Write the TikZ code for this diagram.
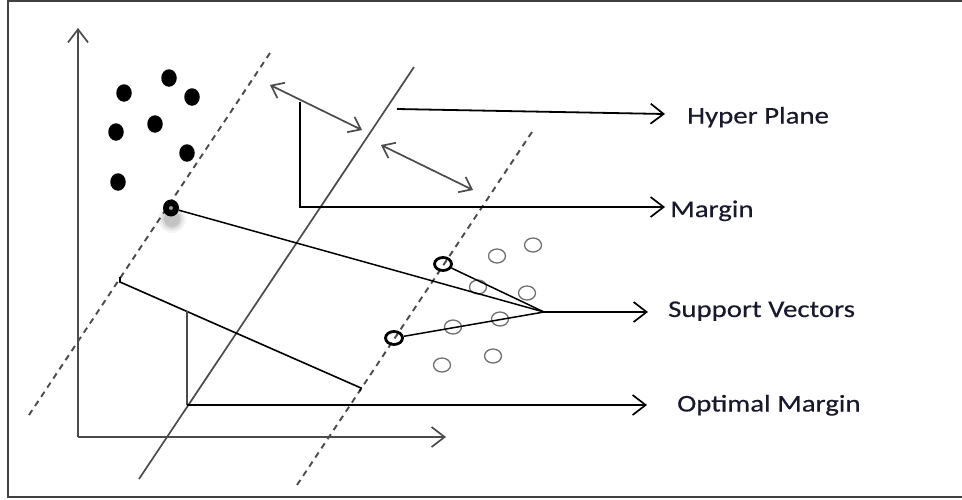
\documentclass[tikz,border=0pt]{standalone}
\usepackage{fontspec}
\setmainfont{Carlito}[FakeStretch=1.2,FakeBold=0.4]
\usetikzlibrary{arrows.meta,shapes.geometric}
\definecolor{txt}{RGB}{25,25,45}
\definecolor{ln}{RGB}{75,75,75}
\begin{document}
\begin{tikzpicture}[x=1pt,y=-1pt,
  tipb/.tip={Straight Barb[length=13pt,width=20pt,line width=1.7pt]},
  tipd/.tip={Straight Barb[length=11pt,width=17pt,line width=1.7pt]},
  conn/.style={line width=1.8pt,black},
  plane/.style={line width=1.7pt,ln},
  dashline/.style={line width=1.9pt,ln,dash pattern=on 6pt off 5pt},
  fdot/.style={ellipse,fill=black,minimum width=15.5pt,minimum height=17.5pt,inner sep=0pt},
  hdot/.style={ellipse,draw=ln!80,line width=1.3pt,minimum width=17pt,minimum height=14pt,inner sep=0pt},
  sv/.style={ellipse,draw=black,line width=2.8pt,minimum width=17pt,minimum height=13pt,inner sep=0pt},
  lab/.style={anchor=base west,inner sep=0pt,text=txt,font=\fontsize{24}{28}\selectfont}]
\useasboundingbox (0,0) rectangle (962,499);
\fill[white] (0,0) rectangle (962,499);
% frame
\draw[line width=2.2pt,black!75] (8,1) rectangle (968,497);
% axes
\coordinate (O) at (78,437);
\coordinate (Ytop) at (78,28);
\coordinate (Xend) at (446,437);
\draw[plane,-tipb] (O) -- (Ytop);
\draw[plane,-tipb] (O) -- (Xend);
% dashed and hyperplane
\coordinate (d1a) at (270,53); \coordinate (d1b) at (29,415);
\coordinate (h1a) at (414,67); \coordinate (h1b) at (139,479);
\coordinate (d2a) at (532,132); \coordinate (d2b) at (297,485);
\draw[dashline] (d1a) -- (d1b);
\draw[dashline] (d2a) -- (d2b);
\draw[plane] (h1a) -- (h1b);
% filled dots
\node[fdot] (f1) at (124,93) {};
\node[fdot] (f2) at (169,78) {};
\node[fdot] (f3) at (192,97) {};
\node[fdot] (f4) at (116,132) {};
\node[fdot] (f5) at (155,124) {};
\node[fdot] (f6) at (187,153) {};
\node[fdot] (f7) at (118,182) {};
% top-left support vector with shadow
\foreach \r/\o in {14/0.04,12/0.05,10/0.07,8/0.09}
  \fill[black,opacity=\o] (172,219) circle (\r pt);
\node[ellipse,fill=black,minimum width=16pt,minimum height=17pt,inner sep=0pt] (s0) at (171,208) {};
\fill[gray!80] (171,208) circle (2pt);
% hollow dots
\node[hdot] (c1) at (533,245) {};
\node[hdot] (c2) at (497,256) {};
\node[hdot] (c3) at (478,287) {};
\node[hdot] (c4) at (527,293) {};
\node[hdot] (c5) at (500,319) {};
\node[hdot] (c6) at (453,327) {};
\node[hdot] (c7) at (442,365) {};
\node[hdot] (c8) at (493,356) {};
% bold support vectors
\node[sv] (s1) at (443,264) {};
\node[sv] (s2) at (394,338) {};
% convergence and support vector arrow
\coordinate (conv) at (544,312);
\coordinate (svtip) at (648,312);
\draw[conn,line width=1.5pt] (s0) -- (conv);
\draw[conn,line width=1.5pt] (s1) -- (conv);
\draw[conn,line width=1.5pt] (s2) -- (conv);
\draw[conn,-tipb] (conv) -- (svtip);
% margin double arrows
\coordinate (m1a) at (270,85); \coordinate (m1b) at (362,130);
\coordinate (m2a) at (381,145); \coordinate (m2b) at (473,190);
\draw[plane,tipd-tipd] (m1a) -- (m1b);
\draw[plane,tipd-tipd] (m2a) -- (m2b);
% margin bracket
\coordinate (mb1) at (300,102); \coordinate (mb2) at (300,207); \coordinate (mtip) at (665,207);
\draw[conn,-tipb] (mb1) -- (mb2) -- (mtip);
% hyper plane arrow
\coordinate (hpa) at (397,109); \coordinate (hptip) at (665,114);
\draw[conn,-tipb] (hpa) -- (hptip);
% optimal margin
\coordinate (om0) at (120,277); \coordinate (om1) at (120,282);
\coordinate (om2) at (361,388); \coordinate (om3) at (360,391);
\draw[conn,line width=1.6pt] (om0) -- (om1) -- (om2) -- (om3);
\coordinate (ov1) at (187,311); \coordinate (ov2) at (187,405); \coordinate (otip) at (647,405);
\draw[line width=2.6pt,ln] (ov1) -- (ov2);
\draw[conn,-tipb] (ov2) -- (otip);
% labels
\node[lab] (lhp) at (687,123.5) {Hyper Plane};
\node[lab] (lm) at (670,217) {Margin};
\node[lab] (lsv) at (668,317) {Support Vectors};
\node[lab] (lom) at (677,411.5) {Optimal Margin};
\end{tikzpicture}
\end{document}
